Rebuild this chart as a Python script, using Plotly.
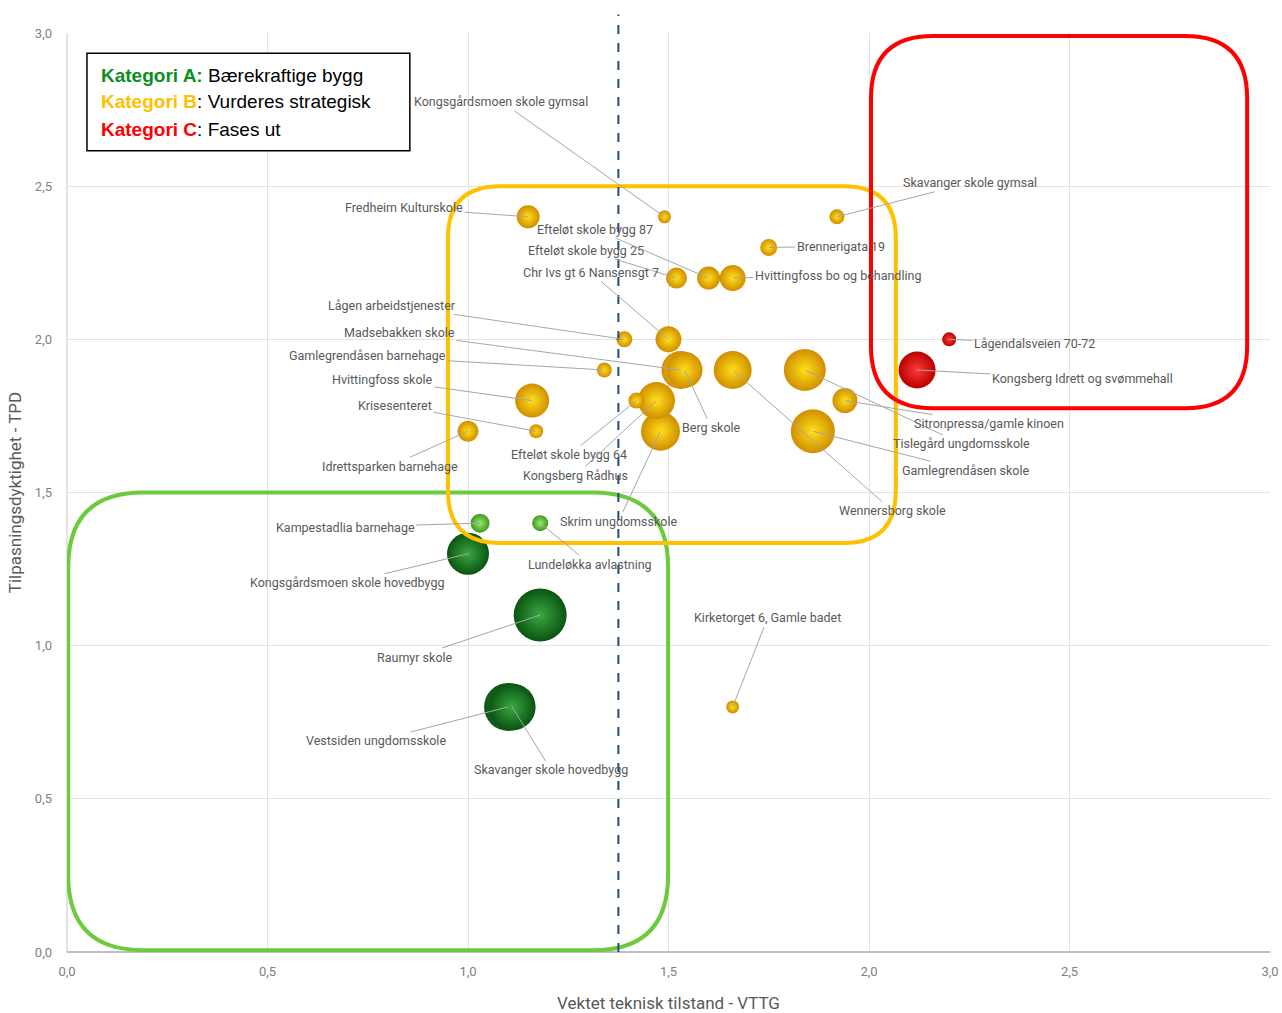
import plotly.graph_objects as go

# ---------------- data ----------------
names = [
    "Kongsgårdsmoen skole gymsal", "Fredheim Kulturskole", "Skavanger skole gymsal",
    "Brennerigata 19", "Efteløt skole bygg 25", "Efteløt skole bygg 87",
    "Hvittingfoss bo og behandling", "Chr Ivs gt 6 Nansensgt 7", "Lågen arbeidstjenester",
    "Madsebakken skole", "Berg skole", "Gamlegrendåsen barnehage", "Hvittingfoss skole",
    "Krisesenteret", "Idrettsparken barnehage", "Efteløt skole bygg 64", "Kongsberg Rådhus",
    "Skrim ungdomsskole", "Wennersborg skole", "Tislegård ungdomsskole",
    "Sitronpressa/gamle kinoen", "Gamlegrendåsen skole", "Kirketorget 6, Gamle badet",
    "Lågendalsveien 70-72", "Kongsberg Idrett og svømmehall",
    "Kampestadlia barnehage", "Lundeløkka avlastning", "Kongsgårdsmoen skole hovedbygg",
    "Raumyr skole", "Vestsiden ungdomsskole", "Skavanger skole hovedbygg",
]
vttg = [1.49, 1.15, 1.92, 1.75, 1.52, 1.60, 1.66, 1.50, 1.39, 1.53, 1.54, 1.34, 1.16,
        1.17, 1.00, 1.42, 1.47, 1.48, 1.66, 1.84, 1.94, 1.86, 1.66,
        2.20, 2.12,
        1.03, 1.18, 1.00, 1.18, 1.10, 1.11]
tpd = [2.40, 2.40, 2.40, 2.30, 2.20, 2.20, 2.20, 2.00, 2.00, 1.90, 1.90, 1.90, 1.80,
       1.70, 1.70, 1.80, 1.80, 1.70, 1.90, 1.90, 1.80, 1.70, 0.80,
       2.00, 1.90,
       1.40, 1.40, 1.30, 1.10, 0.80, 0.80]
bubble = [13, 23, 15, 17, 21, 23, 26, 26, 16, 38, 36, 15, 34,
          14, 21, 16, 37, 39, 38, 42, 25, 44, 13,
          14, 37,
          19, 16, 42, 53, 48, 47]
category = ["B"] * 23 + ["C"] * 2 + ["A2", "A2", "A", "A", "A", "A"]

threshold_vttg = 1.375

legend_lines = [
    ("Kategori A:", " Bærekraftige bygg", "#0A8F1E"),
    ("Kategori B", ": Vurderes strategisk", "#FFC000"),
    ("Kategori C", ": Fases ut", "#FF0000"),
]

# ---------------- styling ----------------
cat_style = {
    "A": dict(edge="#0A5410", center="#3BA843"),
    "A2": dict(edge="#3A9A1C", center="#A2E870"),
    "B": dict(edge="#D08E00", center="#FFE01A"),
    "C": dict(edge="#B80000", center="#FF3A3A"),
}

# label offsets (pixels) from bubble centre to label centre
label_offsets = {
    "Kongsgårdsmoen skole gymsal": (-163, -115),
    "Fredheim Kulturskole": (-124, -9),
    "Skavanger skole gymsal": (133, -34),
    "Brennerigata 19": (72, -1),
    "Efteløt skole bygg 25": (-91, -28),
    "Efteløt skole bygg 87": (-114, -49),
    "Hvittingfoss bo og behandling": (105, -3),
    "Chr Ivs gt 6 Nansensgt 7": (-78, -67),
    "Lågen arbeidstjenester": (-232, -34),
    "Madsebakken skole": (-281, -37),
    "Berg skole": (27, 58),
    "Gamlegrendåsen barnehage": (-237, -14),
    "Hvittingfoss skole": (-150, -21),
    "Krisesenteret": (-141, -26),
    "Idrettsparken barnehage": (-78, 35),
    "Efteløt skole bygg 64": (-67, 54),
    "Kongsberg Rådhus": (-81, 75),
    "Skrim ungdomsskole": (-42, 90),
    "Wennersborg skole": (160, 141),
    "Tislegård ungdomsskole": (157, 74),
    "Sitronpressa/gamle kinoen": (144, 23),
    "Gamlegrendåsen skole": (153, 39),
    "Kirketorget 6, Gamle badet": (35, -89),
    "Lågendalsveien 70-72": (85, 4),
    "Kongsberg Idrett og svømmehall": (165, 9),
    "Kampestadlia barnehage": (-135, 4),
    "Lundeløkka avlastning": (50, 41),
    "Kongsgårdsmoen skole hovedbygg": (-121, 29),
    "Raumyr skole": (-125, 42),
    "Vestsiden ungdomsskole": (-132, 34),
    "Skavanger skole hovedbygg": (39, 63),
}

W, H = 1282, 1013
M = dict(l=67, r=12, t=33, b=61)
xr = [0, 3]
yr = [0, 3]
px_x = (W - M["l"] - M["r"]) / (xr[1] - xr[0])
px_y = (H - M["t"] - M["b"]) / (yr[1] - yr[0])

label_font = "Roboto, Liberation Sans Narrow, sans-serif"

fig = go.Figure()

for cat in ["B", "C", "A2", "A"]:
    idx = [i for i, c in enumerate(category) if c == cat]
    idx.sort(key=lambda i: -bubble[i])
    st = cat_style[cat]
    fig.add_trace(go.Scatter(
        x=[vttg[i] for i in idx], y=[tpd[i] for i in idx],
        text=[names[i] for i in idx], mode="markers", hoverinfo="text",
        marker=dict(size=[bubble[i] for i in idx], sizemode="diameter",
                    color=st["edge"], line=dict(width=0),
                    gradient=dict(type="radial", color=st["center"]), opacity=1),
        showlegend=False,
    ))


def rounded_rect(x0, y0, x1, y1, r_px):
    rx = r_px / px_x
    ry = r_px / px_y
    return (f"M {x0+rx},{y0} L {x1-rx},{y0} Q {x1},{y0} {x1},{y0+ry} "
            f"L {x1},{y1-ry} Q {x1},{y1} {x1-rx},{y1} "
            f"L {x0+rx},{y1} Q {x0},{y1} {x0},{y1-ry} "
            f"L {x0},{y0+ry} Q {x0},{y0} {x0+rx},{y0} Z")


shapes = [
    dict(type="path", xref="x", yref="y", path=rounded_rect(0.003, 0.006, 1.499, 1.50, 75),
         line=dict(color="#6CCB3C", width=4), layer="above"),
    dict(type="path", xref="x", yref="y", path=rounded_rect(0.95, 1.335, 2.067, 2.50, 52),
         line=dict(color="#FFC000", width=4), layer="above"),
    dict(type="path", xref="x", yref="y", path=rounded_rect(2.005, 1.775, 2.943, 2.99, 62),
         line=dict(color="#FF0000", width=4), layer="above"),
    dict(type="line", xref="paper", yref="paper",
         x0=(threshold_vttg - xr[0]) / (xr[1] - xr[0]), x1=(threshold_vttg - xr[0]) / (xr[1] - xr[0]),
         y0=0, y1=1.02, line=dict(color="#1F4E79", width=2, dash="dash"), layer="above"),
    dict(type="rect", xref="paper", yref="paper", x0=0.0166, x1=0.285, y0=0.872, y1=0.978,
         line=dict(color="#000000", width=1.5), fillcolor="white", layer="above"),
]

annotations = []
for i, n in enumerate(names):
    ax, ay = label_offsets[n]
    annotations.append(dict(
        x=vttg[i], y=tpd[i], xref="x", yref="y", text=n, showarrow=True,
        ax=ax, ay=ay, arrowhead=0, arrowwidth=1, arrowcolor="#A6A6A6", standoff=0,
        font=dict(family=label_font, size=12.5, color="#595959"),
    ))

leg_y = [0.954, 0.925, 0.895]
for (bold, rest, col), yy in zip(legend_lines, leg_y):
    annotations.append(dict(
        xref="paper", yref="paper", x=0.0266, y=yy, xanchor="left", yanchor="middle",
        showarrow=False,
        text=f"<b><span style='color:{col}'>{bold}</span></b>{rest}",
        font=dict(family="Liberation Sans, Arial, sans-serif", size=19, color="#000000"),
    ))

fig.update_layout(
    width=W, height=H, margin=M, paper_bgcolor="white", plot_bgcolor="white",
    separators=", ",
    shapes=shapes, annotations=annotations,
    font=dict(family=label_font, color="#595959"),
    xaxis=dict(range=xr, dtick=0.5, tickformat=".1f", showgrid=True, gridcolor="#E3E3E3",
               zeroline=True, zerolinecolor="#E3E3E3", showline=False, automargin=False,
               tickfont=dict(size=13, color="#7F7F7F"), ticks="", ticklabelstandoff=10,
               title=dict(text="Vektet teknisk tilstand - VTTG", standoff=20,
                          font=dict(size=17, color="#595959")), fixedrange=True),
    yaxis=dict(range=yr, dtick=0.5, tickformat=".1f", showgrid=True, gridcolor="#E3E3E3",
               zeroline=True, zerolinecolor="#BFBFBF", zerolinewidth=2, showline=False,
               automargin=False,
               tickfont=dict(size=13, color="#7F7F7F"), ticks="", ticklabelstandoff=14,
               title=dict(text="Tilpasningsdyktighet - TPD", standoff=8,
                          font=dict(size=17, color="#595959")), fixedrange=True),
)

fig.write_html("out.html")
